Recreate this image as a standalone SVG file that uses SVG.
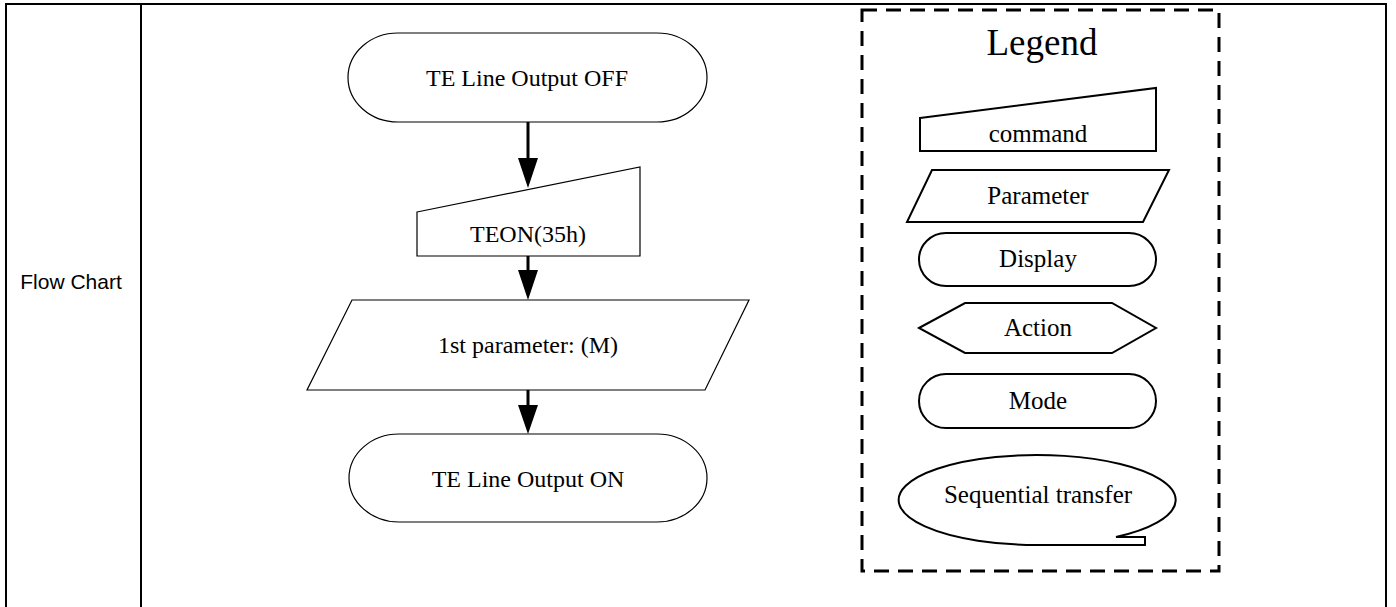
<svg xmlns="http://www.w3.org/2000/svg" width="1396" height="607" viewBox="0 0 1396 607">
<style>
.shape{fill:#fff;stroke:#000;stroke-width:1.2}
.lg{fill:#fff;stroke:#000;stroke-width:2}
.t{font-family:"Liberation Serif","Times New Roman",serif;font-size:24px;fill:#000;text-anchor:middle}
.tl{font-family:"Liberation Serif","Times New Roman",serif;font-size:25px;fill:#000;text-anchor:middle}
.conn{stroke:#000;stroke-width:3;fill:none}
.head{fill:#000}
</style>
<rect width="1396" height="607" fill="#fff"/>
<g id="table" stroke="#000" stroke-width="2" fill="none">
<path d="M6,620 L6,4 L1386,4 L1386,620"/>
<line x1="141" y1="4" x2="141" y2="620"/>
</g>
<g id="row-label">
<text x="71" y="289" style="font-family:'Liberation Sans',Arial,sans-serif;font-size:21px;fill:#000;text-anchor:middle">Flow Chart</text>
</g>
<g id="connectors">
<line class="conn" x1="528" y1="122" x2="528" y2="160"/>
<polygon class="head" points="518,158 538,158 528,188"/>
<line class="conn" x1="528" y1="256" x2="528" y2="272"/>
<polygon class="head" points="518,270 538,270 528,300"/>
<line class="conn" x1="528" y1="390" x2="528" y2="407"/>
<polygon class="head" points="518,405 538,405 528,434"/>
</g>
<g id="node-off">
<rect class="shape" x="348" y="33" width="359" height="89" rx="50" ry="44.5"/>
<text class="t" x="527" y="86">TE Line Output OFF</text>
</g>
<g id="node-teon">
<polygon class="shape" points="417,212 640,167 640,256 417,256"/>
<text class="t" x="528" y="242">TEON(35h)</text>
</g>
<g id="node-param">
<polygon class="shape" points="352,300 749,300 705,390 307,390"/>
<text class="t" x="528" y="353">1st parameter: (M)</text>
</g>
<g id="node-on">
<rect class="shape" x="349" y="434" width="358" height="88" rx="50" ry="44"/>
<text class="t" x="528" y="487">TE Line Output ON</text>
</g>
<g id="legend">
<rect x="862" y="10" width="357" height="561" fill="none" stroke="#000" stroke-width="3" stroke-dasharray="15 9"/>
<text x="1042" y="55" style="font-family:'Liberation Serif','Times New Roman',serif;font-size:37px;fill:#000;text-anchor:middle">Legend</text>
</g>
<g id="legend-command">
<polygon class="lg" points="920,118 1156,88 1156,151 920,151"/>
<text class="tl" x="1038" y="142">command</text>
</g>
<g id="legend-parameter">
<polygon class="lg" points="932,170 1169,170 1143,222 907,222"/>
<text class="tl" x="1038" y="204">Parameter</text>
</g>
<g id="legend-display">
<rect class="lg" x="919" y="233" width="237" height="53" rx="27" ry="26.5"/>
<text class="tl" x="1038" y="267">Display</text>
</g>
<g id="legend-action">
<polygon class="lg" points="919,328 965,303 1112,303 1156,328 1112,353 965,353"/>
<text class="tl" x="1038" y="336">Action</text>
</g>
<g id="legend-mode">
<rect class="lg" x="919" y="374" width="237" height="54" rx="27" ry="27"/>
<text class="tl" x="1038" y="409">Mode</text>
</g>
<g id="legend-sequential">
<path class="lg" d="M1037.5,545 A138.5,45 0 1 1 1116,537 L1145,537 L1145,545 Z"/>
<text class="tl" x="1038" y="503">Sequential transfer</text>
</g>
</svg>
